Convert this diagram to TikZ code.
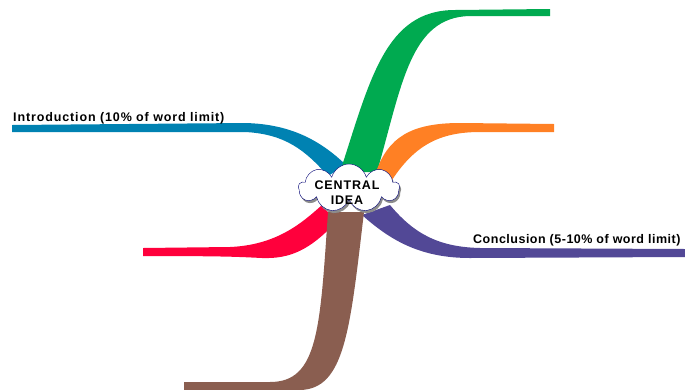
\documentclass[tikz,border=0pt]{standalone}
\usepackage{fontspec}
\setmainfont{Liberation Sans}
\usetikzlibrary{shapes.symbols,shadows}
\definecolor{cblue}{RGB}{0,130,178}
\definecolor{cgreen}{RGB}{0,170,80}
\definecolor{corange}{RGB}{255,128,36}
\definecolor{cred}{RGB}{255,0,60}
\definecolor{cbrown}{RGB}{138,94,80}
\definecolor{cpurple}{RGB}{82,72,150}
\begin{document}
\begin{tikzpicture}[x=1pt,y=-1pt]
		\tikzset{lbl/.style={inner sep=0,font=\bfseries\fontsize{12.5}{15}\selectfont\addfontfeature{LetterSpace=7}},
			br/.style={draw=none}}
		\useasboundingbox (0,0) rectangle (685,389);

		\fill[br,cblue] (12,125) -- (245,123) .. controls (290,124) and (320,140) .. (346,165)
			-- (328,176) .. controls (305,150) and (285,134) .. (245,132) -- (12,132) -- cycle;
		\fill[br,cgreen] (340,172) .. controls (370,80) and (385,10) .. (455,10) -- (550,9)
			-- (550,16) -- (470,16) .. controls (410,17) and (402,85) .. (377,172) -- cycle;
		\fill[br,corange] (376,172) .. controls (388,138) and (410,123) .. (460,123) -- (554,124)
			-- (554,132) -- (480,132) .. controls (440,132) and (415,145) .. (392,180) -- cycle;
		\fill[br,cpurple] (390,205) .. controls (415,235) and (440,247) .. (480,248) -- (685,249)
			-- (685,257) -- (470,258) .. controls (420,258) and (390,240) .. (362,215) -- cycle;
		\fill[br,cred] (143,248) -- (230,247) .. controls (275,245) and (300,225) .. (322,205)
			-- (336,222) .. controls (310,250) and (290,259) .. (262,258) .. controls (240,257) and (230,256) .. (143,256) -- cycle;
		\fill[br,cbrown] (328,212) .. controls (320,330) and (318,382) .. (270,382) -- (184,382)
			-- (184,390) -- (300,390) .. controls (345,389) and (350,330) .. (364,212) -- cycle;

		\node[cloud,cloud puffs=9,cloud ignores aspect,draw=blue!45!black,fill=white,
			minimum width=101pt,minimum height=48pt,
			drop shadow={shadow xshift=1.5pt,shadow yshift=-2.5pt,fill=black!45,opacity=1}] (cl) at (349,188) {};
		\node[lbl,align=center] (idea) at (347,193) {CENTRAL\\IDEA};

		\node[lbl,anchor=base west] (intro) at (13,121) {Introduction (10\% of word limit)};
		\node[lbl,anchor=base west,font=\bfseries\fontsize{12.5}{15}\selectfont\addfontfeature{LetterSpace=4}] (concl) at (473,243.5) {Conclusion (5-10\% of word limit)};
\end{tikzpicture}
\end{document}
